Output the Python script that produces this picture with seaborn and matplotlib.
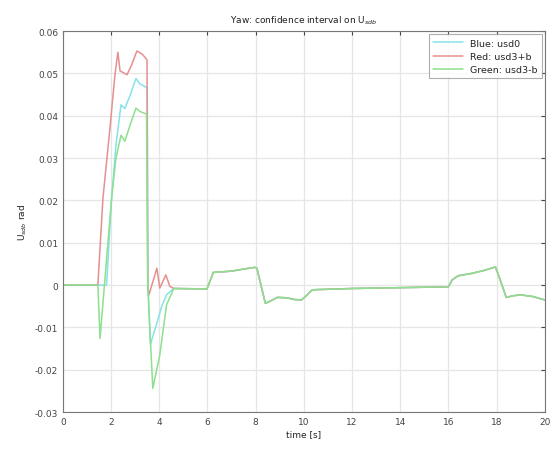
import numpy as np
import pandas as pd
import matplotlib
matplotlib.use("Agg")
import matplotlib.pyplot as plt
import seaborn as sns

# shared tail (all three series coincide after ~4.6 s)
tail_t = [4.6, 5.98, 6.24, 7.0, 7.5, 7.97, 8.05, 8.4, 8.6, 8.9, 9.3, 9.6, 9.9, 10.1, 10.35,
          12.0, 16.0, 16.15, 16.4, 17.0, 17.5, 17.95, 18.1, 18.4, 18.7, 19.0, 19.5, 20.0]
tail_v = [-0.0008, -0.0009, 0.0030, 0.0033, 0.0038, 0.0042, 0.0040, -0.0043, -0.0038, -0.0029,
          -0.0030, -0.0034, -0.0035, -0.0025, -0.0011, -0.0008, -0.0004, 0.0012, 0.0022, 0.0028,
          0.0035, 0.0043, 0.0020, -0.0029, -0.0025, -0.0023, -0.0027, -0.0035]

blue_t = [0, 1.81, 2.02, 2.2, 2.41, 2.57, 2.8, 3.03, 3.2, 3.4, 3.5, 3.53, 3.63, 3.9, 4.1, 4.3]
blue_v = [0, 0, 0.0205, 0.033, 0.0426, 0.0417, 0.045, 0.0488, 0.0475, 0.0469, 0.0465,
          0.0, -0.0140, -0.0090, -0.0050, -0.0023]

red_t = [0, 1.45, 1.66, 1.95, 2.16, 2.28, 2.37, 2.66, 2.85, 3.07, 3.3, 3.49, 3.52, 3.57,
         3.9, 4.02, 4.27, 4.44]
red_v = [0, 0, 0.0205, 0.037, 0.0497, 0.055, 0.0506, 0.0497, 0.052, 0.0553, 0.0545, 0.0532,
         0.0, -0.0023, 0.0040, -0.0007, 0.0024, -0.0003]

green_t = [0, 1.45, 1.54, 2.02, 2.2, 2.41, 2.57, 2.8, 3.03, 3.2, 3.47, 3.52, 3.73, 4.02, 4.3]
green_v = [0, 0, -0.0126, 0.0205, 0.030, 0.0354, 0.0340, 0.038, 0.0418, 0.041, 0.0404,
           0.0, -0.0244, -0.0165, -0.0047]

labels = ["Blue: usd0", "Red: usd3+b", "Green: usd3-b"]
colors = ["#86e3ea", "#e59090", "#8ce08e"]

frames = []
for lab, tt, vv in zip(labels, [blue_t, red_t, green_t], [blue_v, red_v, green_v]):
    frames.append(pd.DataFrame({"t": list(tt) + tail_t, "v": list(vv) + tail_v,
                                "series": lab, "order": range(len(tt) + len(tail_t))}))
df = pd.concat(frames, ignore_index=True)

sns.set_style("white")
plt.rcParams["font.family"] = ["DejaVu Sans"]
fig = plt.figure(figsize=(5.52, 4.52), dpi=100)
ax = fig.add_axes([0.114, 0.086, 0.873, 0.843])

sns.lineplot(data=df, x="t", y="v", hue="series", palette=dict(zip(labels, colors)),
             estimator=None, sort=False, units="series", lw=1.1, ax=ax)

ax.set_xlim(0, 20)
ax.set_ylim(-0.03, 0.06)
ax.set_xticks(np.arange(0, 21, 2))
ax.set_yticks(np.round(np.arange(-0.03, 0.0601, 0.01), 2))
ax.set_yticklabels(["-0.03", "-0.02", "-0.01", "0", "0.01", "0.02", "0.03", "0.04", "0.05", "0.06"])
ax.grid(True, linestyle="-", color="#e6e6e6", lw=0.9)
ax.tick_params(direction="in", labelsize=6.5, length=3, colors="#444444", top=True, right=True)
for s in ax.spines.values():
    s.set_color("#777777")
    s.set_linewidth(0.8)
ax.set_xlabel("time [s]", fontsize=6.5, labelpad=2, color="#222222")
ax.set_ylabel(r"U$_{sdb}$ rad", fontsize=6.5, labelpad=4, color="#222222")
ax.set_title(r"Yaw: confidence interval on U$_{sdb}$", fontsize=6.5, pad=6, color="#222222")
leg = ax.legend(loc="upper right", fontsize=6.8, frameon=True, fancybox=False,
                edgecolor="#999999", handlelength=3.2, handletextpad=0.7, borderpad=0.45,
                labelspacing=0.45, borderaxespad=0.35)
leg.get_frame().set_linewidth(0.8)
leg.set_title(None)
fig.savefig("out.png", dpi=100)
